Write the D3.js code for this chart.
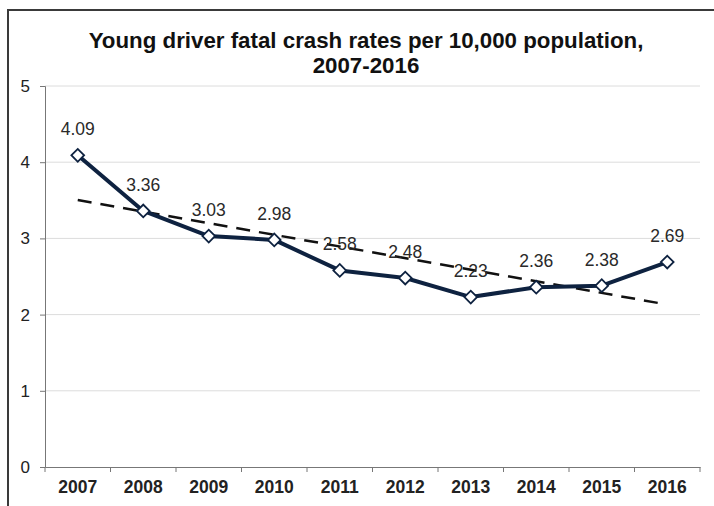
<!DOCTYPE html>
<html>
<head>
<meta charset="utf-8">
<script src="https://cdn.jsdelivr.net/npm/d3@7"></script>
<style>
  body { margin: 0; background: #fff; }
  svg { display: block; font-family: "Liberation Sans", Arial, sans-serif; }
</style>
</head>
<body>
<svg id="chart" width="714" height="506"></svg>
<script>
// chart values
var years = ["2007", "2008", "2009", "2010", "2011", "2012", "2013", "2014", "2015", "2016"];
var rates = [4.09, 3.36, 3.03, 2.98, 2.58, 2.48, 2.23, 2.36, 2.38, 2.69];
var yTicks = [0, 1, 2, 3, 4, 5];
var titleLines = ["Young driver fatal crash rates per 10,000 population,", "2007-2016"];

var svg = d3.select("#chart");
var margin = { left: 45, right: 14, top: 86, bottom: 39 };
var W = 714, H = 506;

var x = d3.scaleBand().domain(years).range([margin.left, W - margin.right]);
var y = d3.scaleLinear().domain([0, 5]).range([H - margin.bottom, margin.top]);
var cx = function(d) { return x(d) + x.bandwidth() / 2; };

// outer frame (only top and left edges show in the picture)
svg.append("path")
  .attr("d", "M8," + H + "V10H" + W)
  .attr("fill", "none")
  .attr("stroke", "#3a3a3a")
  .attr("stroke-width", 2);

// title
svg.append("g").selectAll("text")
  .data(titleLines)
  .enter().append("text")
    .attr("x", 366)
    .attr("y", function(d, i) { return 48 + i * 25; })
    .attr("text-anchor", "middle")
    .style("font-size", "22.3px")
    .style("font-weight", "bold")
    .style("fill", "#111")
    .text(function(d) { return d; });

// gridlines
svg.append("g")
  .selectAll("line")
  .data(yTicks.slice(1))
  .enter().append("line")
    .attr("x1", margin.left).attr("x2", W - margin.right)
    .attr("y1", function(d) { return y(d); })
    .attr("y2", function(d) { return y(d); })
    .attr("stroke", "#dcdcdc")
    .attr("stroke-width", 1);

// y axis
var yAxis = svg.append("g")
  .attr("transform", "translate(" + margin.left + ",0)")
  .call(d3.axisLeft(y).tickValues(yTicks).tickFormat(d3.format("d")).tickSize(5).tickPadding(10));
yAxis.select(".domain").attr("stroke", "#777");
yAxis.selectAll(".tick line").attr("stroke", "#777");
yAxis.selectAll("text").style("font-size", "17px").style("fill", "#222");

// x axis
var xAxis = svg.append("g")
  .attr("transform", "translate(0," + y(0) + ")")
  .call(d3.axisBottom(x).tickSize(0).tickPadding(14));
xAxis.select(".domain").attr("stroke", "#777");
xAxis.selectAll("text").style("font-size", "17.5px").style("font-weight", "bold").style("fill", "#222");
// tick marks sit between categories
svg.append("g").selectAll("line")
  .data(years.concat([null]))
  .enter().append("line")
    .attr("x1", function(d, i) { return margin.left + i * x.bandwidth(); })
    .attr("x2", function(d, i) { return margin.left + i * x.bandwidth(); })
    .attr("y1", y(0)).attr("y2", y(0) + 5)
    .attr("stroke", "#777");

// linear trendline (least squares over the series)
var n = rates.length;
var mx = d3.mean(rates, function(d, i) { return i; });
var my = d3.mean(rates);
var slope = d3.sum(rates, function(d, i) { return (i - mx) * (d - my); }) /
            d3.sum(rates, function(d, i) { return (i - mx) * (i - mx); });
var trend = [0, n - 1].map(function(i) { return { year: years[i], v: my + slope * (i - mx) }; });

svg.append("line")
  .attr("x1", cx(trend[0].year)).attr("y1", y(trend[0].v))
  .attr("x2", cx(trend[1].year) - 8).attr("y2", y(trend[1].v + slope * -8 / x.bandwidth()))
  .attr("stroke", "#111")
  .attr("stroke-width", 2.5)
  .attr("stroke-dasharray", "14,9");

// data labels
svg.append("g").selectAll("text")
  .data(rates)
  .enter().append("text")
    .attr("x", function(d, i) { return cx(years[i]); })
    .attr("y", function(d) { return y(d) - 20; })
    .attr("text-anchor", "middle")
    .style("font-size", "17.5px")
    .style("fill", "#2a2a2a")
    .text(function(d) { return d.toFixed(2); });

// series line
var line = d3.line()
  .x(function(d, i) { return cx(years[i]); })
  .y(function(d) { return y(d); });

svg.append("path")
  .datum(rates)
  .attr("d", line)
  .attr("fill", "none")
  .attr("stroke", "#0e2240")
  .attr("stroke-width", 4)
  .attr("stroke-linejoin", "round");

// diamond markers
svg.append("g").selectAll("path")
  .data(rates)
  .enter().append("path")
    .attr("transform", function(d, i) { return "translate(" + cx(years[i]) + "," + y(d) + ") rotate(45)"; })
    .attr("d", "M-4.5,-4.5H4.5V4.5H-4.5Z")
    .attr("fill", "#fff")
    .attr("stroke", "#0e2240")
    .attr("stroke-width", 1.8);
</script>
</body>
</html>
